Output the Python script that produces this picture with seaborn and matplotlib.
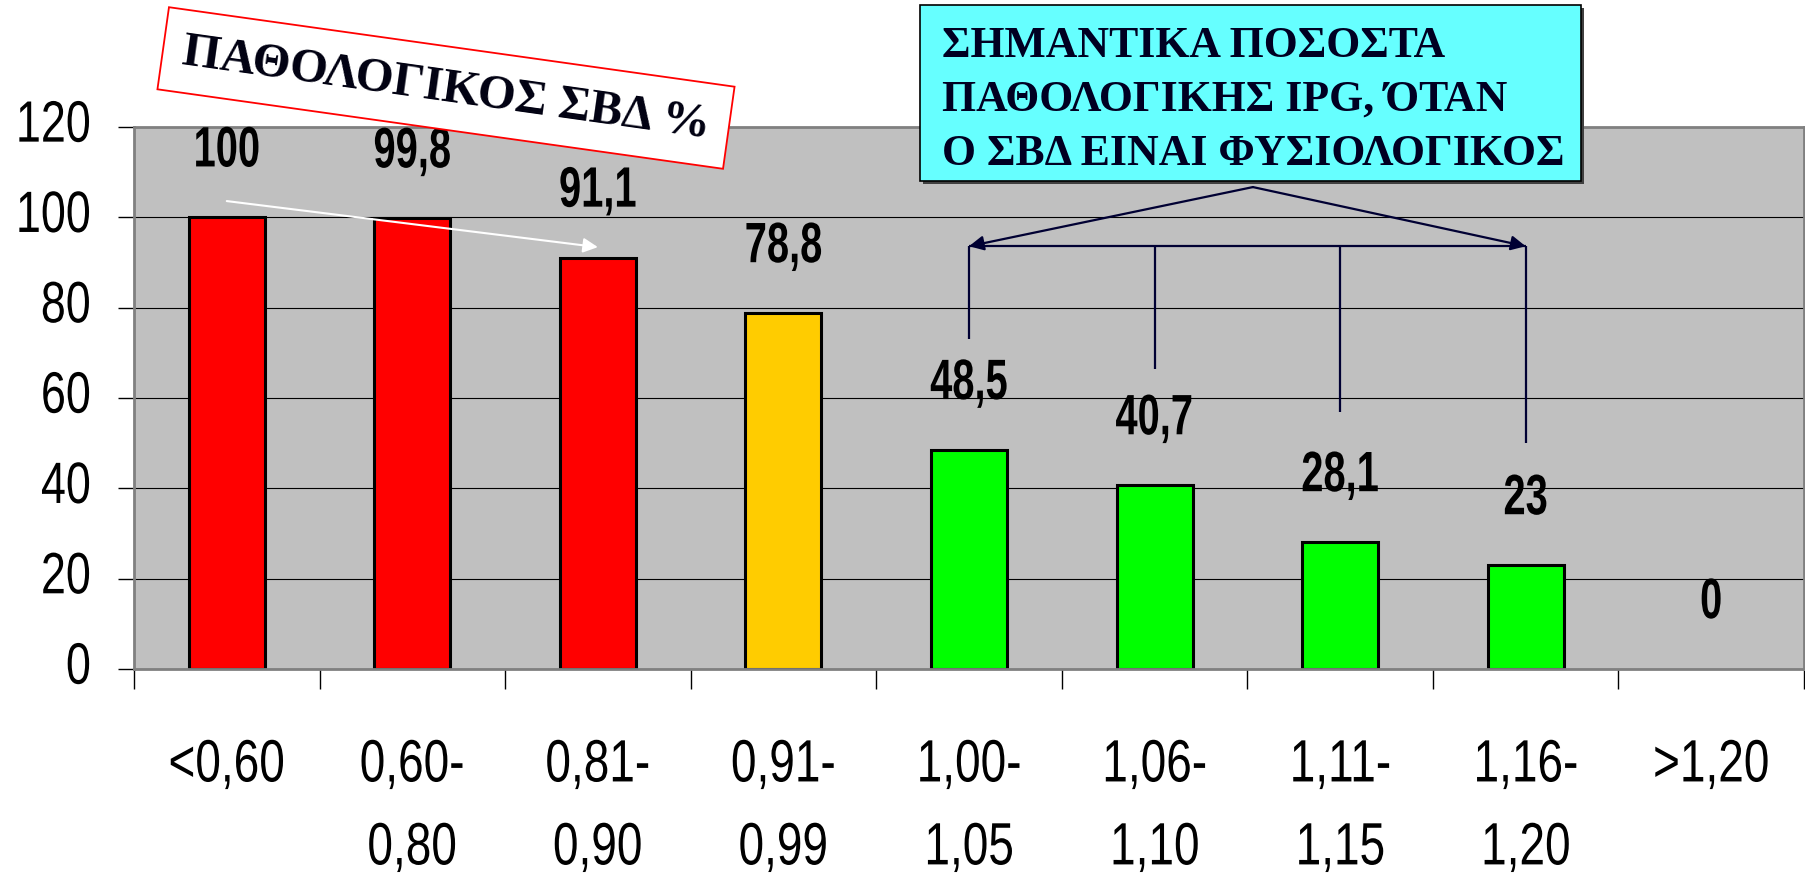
import matplotlib
matplotlib.use("Agg")
import matplotlib.pyplot as plt
from matplotlib.patches import Rectangle
from matplotlib.patheffects import AbstractPathEffect
from matplotlib.ticker import FixedLocator
from matplotlib.transforms import Affine2D
import seaborn as sns
import pandas as pd

# Data
categories = ["<0,60", "0,60-\n0,80", "0,81-\n0,90", "0,91-\n0,99", "1,00-\n1,05",
              "1,06-\n1,10", "1,11-\n1,15", "1,16-\n1,20", ">1,20"]
values = [100, 99.8, 91.1, 78.8, 48.5, 40.7, 28.1, 23, 0]
bar_colors = ["#FF0000", "#FF0000", "#FF0000", "#FFCC00", "#00FF00",
              "#00FF00", "#00FF00", "#00FF00", "#00FF00"]
y_ticks = [0, 20, 40, 60, 80, 100, 120]

title_box = "ΠΑΘΟΛΟΓΙΚΟΣ ΣΒΔ %"
note_box = "ΣΗΜΑΝΤΙΚΑ ΠΟΣΟΣΤΑ\nΠΑΘΟΛΟΓΙΚΗΣ IPG, ΌΤΑΝ\nΟ ΣΒΔ ΕΙΝΑΙ ΦΥΣΙΟΛΟΓΙΚΟΣ"

# bracket that ties the note box to the normal-ABI bars
bracket_bars = [4, 5, 6, 7]
bracket_ends = [73, 66.5, 57, 50]
bracket_y = 93.6
bracket_apex = (5.53, 106.7)
white_arrow = ((0, 103.6), (2.0, 93.4))


class Squeeze(AbstractPathEffect):
    """Rescale the glyphs (stand-in for Arial Narrow, which is not installed)."""

    def __init__(self, sx=1.0, sy=1.0, anchor="center", dy=0.0):
        super().__init__()
        self.sx, self.sy, self.anchor, self.dy = sx, sy, anchor, dy

    def draw_path(self, renderer, gc, tpath, affine, rgbFace=None):
        ext = tpath.get_extents(affine)
        if self.anchor == "right":
            cx = ext.x1
        elif self.anchor == "left":
            cx = ext.x0
        else:
            cx = (ext.x0 + ext.x1) / 2
        cy = (ext.y0 + ext.y1) / 2
        t = affine + (Affine2D().translate(-cx, -cy).scale(self.sx, self.sy)
                      .translate(cx, cy + self.dy))
        renderer.draw_path(gc, tpath, t, rgbFace)


df = pd.DataFrame({"range": categories, "pct": values})

sans = ["Liberation Sans", "DejaVu Sans"]
serif = ["Liberation Serif", "DejaVu Serif"]
plt.rcParams["font.family"] = sans

W, H = 1806, 878
fig = plt.figure(figsize=(W / 100, H / 100), dpi=100)
ax = fig.add_axes([134 / W, 1 - 670 / H, (1804 - 134) / W, (670 - 128) / H])
ax.set_facecolor("#C0C0C0")

sns.barplot(data=df, x="range", y="pct", hue="range", palette=bar_colors, legend=False,
            width=0.41, edgecolor="black", linewidth=2.2, saturation=1, ax=ax)

for cont, v in zip(ax.containers, values):
    if v == 0:
        for p in cont:
            p.set_edgecolor("none")
    lab = f"{v:g}".replace(".", ",")
    for t in ax.bar_label(cont, labels=[lab], padding=28, fontsize=41, fontweight="bold"):
        t.set_path_effects([Squeeze(sx=0.7)])

ax.set_ylim(0, 120)
ax.set_xlim(-0.5, len(categories) - 0.5)
ax.set_xlabel("")
ax.set_ylabel("")
ax.set_yticks(y_ticks)
ax.yaxis.grid(True, color="black", linewidth=0.8)
ax.set_axisbelow(True)

ax.tick_params(axis="y", length=11.5, width=1, color="black", pad=19.5, labelsize=32.3)
ax.xaxis.set_minor_locator(FixedLocator([i - 0.5 for i in range(len(categories) + 1)]))
ax.tick_params(axis="x", which="major", length=0, pad=50, labelsize=43)
ax.tick_params(axis="x", which="minor", length=14.4, width=1, color="black")
for t in ax.get_xticklabels():
    t.set_linespacing(1.65)
    t.set_path_effects([Squeeze(sx=0.77)])
for t in ax.get_yticklabels():
    t.set_path_effects([Squeeze(sy=1.3, anchor="right", dy=6)])

for s in ax.spines.values():
    s.set_color("#808080")
    s.set_linewidth(2)

# white arrow along the red bars
ax.annotate("", xy=white_arrow[1], xytext=white_arrow[0],
            arrowprops=dict(arrowstyle="-|>", color="white", lw=1.5,
                            mutation_scale=22, shrinkA=0, shrinkB=0))

# bracket + arrows from the note box
navy = "#000033"
ax.hlines(bracket_y, bracket_bars[0], bracket_bars[-1], color=navy, lw=1.6)
ax.vlines(bracket_bars, bracket_ends, bracket_y, color=navy, lw=1.6)
for xe in (bracket_bars[0], bracket_bars[-1]):
    ax.annotate("", xy=(xe, bracket_y), xytext=bracket_apex,
                arrowprops=dict(arrowstyle="-|>", color=navy, lw=1.6,
                                mutation_scale=22, shrinkA=0, shrinkB=0))

# rotated red-framed title box
fig.text(446 / W, 1 - 89 / H, title_box, rotation=-8, rotation_mode="anchor",
         ha="center", va="center", fontsize=35, fontweight="bold", family=serif,
         color="#000011",
         bbox=dict(boxstyle="square,pad=0.4", fc="white", ec="red", lw=1.3))

# cyan note box
fig.patches.append(Rectangle((923 / W, 1 - 185 / H), 661 / W, 176 / H,
                             transform=fig.transFigure, fc="#404040", ec="none"))
fig.patches.append(Rectangle((920 / W, 1 - 182 / H), 661 / W, 176 / H,
                             transform=fig.transFigure, fc="#66FFFF", ec="black", lw=1.2))
fig.text(942 / W, 1 - 26 / H, note_box, ha="left", va="top", fontsize=31.5,
         fontweight="bold", family=serif, color="#000022", linespacing=1.45)

fig.savefig("out.png", dpi=100)
